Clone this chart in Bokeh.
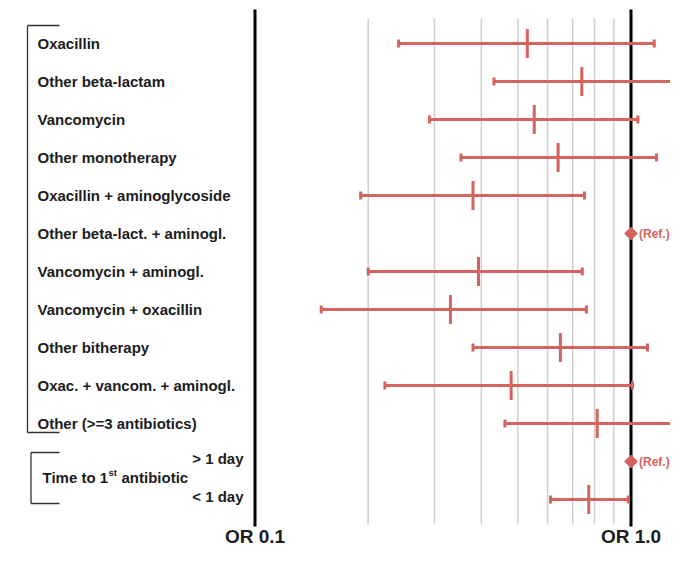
import math
from bokeh.plotting import figure
from bokeh.models import Range1d, ColumnDataSource
from bokeh.core.properties import value
from bokeh.embed import file_html
from bokeh.resources import INLINE

# ---------------- data ----------------
labels = ["Oxacillin", "Other beta-lactam", "Vancomycin", "Other monotherapy",
          "Oxacillin + aminoglycoside", "Other beta-lact. + aminogl.",
          "Vancomycin + aminogl.", "Vancomycin + oxacillin", "Other bitherapy",
          "Oxac. + vancom. + aminogl.", "Other (>=3 antibiotics)"]
time_labels = ["> 1 day", "< 1 day"]
# odds ratios (None = reference category)
or_est = [0.53, 0.74, 0.553, 0.64, 0.38, None, 0.393, 0.331, 0.649, 0.48, 0.813, None, 0.772]
or_low = [0.241, 0.432, 0.291, 0.353, 0.191, None, 0.200, 0.150, 0.380, 0.2215, 0.462, None, 0.611]
or_high = [1.153, 1.284, 1.043, 1.169, 0.752, None, 0.742, 0.761, 1.106, 1.009, 1.6, None, 0.983]
grid_ticks = [0.2, 0.3, 0.4, 0.5, 0.6, 0.7, 0.8, 0.9]
ref_ticks = [0.1, 1.0]
ref_tick_labels = ["OR 0.1", "OR 1.0"]

# ---------------- layout helpers ----------------
W, H = 670, 547
PX_DEC = 376.0
LOG_LO = -1 - 254.5 / PX_DEC
LOG_HI = LOG_LO + W / PX_DEC
ROW0, ROWH = 43.0, 38.0

def fx(px):
    return 10 ** (LOG_LO + px / PX_DEC)

def fy(py):
    return (py - ROW0) / ROWH

RED = "#d6635d"
TXT = "#1c1c1c"
FONT = value("Liberation Sans")

p = figure(width=W, height=H, output_backend="svg", toolbar_location=None,
           x_axis_type="log",
           x_range=Range1d(10 ** LOG_LO, 10 ** LOG_HI),
           y_range=Range1d(fy(H), fy(0)),
           min_border=0)
p.axis.visible = False
p.grid.visible = False
p.outline_line_color = None
p.background_fill_color = "white"

# grey gridlines
p.segment(x0=grid_ticks, x1=grid_ticks, y0=[fy(18)] * len(grid_ticks),
          y1=[fy(524)] * len(grid_ticks), line_color="#cfcfcf", line_width=1.5)
# black reference lines
p.segment(x0=ref_ticks, x1=ref_ticks, y0=[fy(9)] * 2, y1=[fy(526)] * 2,
          line_color="black", line_width=3)

rows = list(range(len(or_est)))
ci_rows = [r for r in rows if or_est[r] is not None]
ref_rows = [r for r in rows if or_est[r] is None]
src = ColumnDataSource(dict(
    y=ci_rows,
    est=[or_est[r] for r in ci_rows],
    lo=[or_low[r] for r in ci_rows],
    hi=[or_high[r] for r in ci_rows],
))
p.segment(x0="lo", x1="hi", y0="y", y1="y", source=src, line_color=RED, line_width=3)
p.scatter(x="lo", y="y", source=src, marker="dash", size=8, angle=math.pi / 2,
          line_color=RED, line_width=3)
p.scatter(x="hi", y="y", source=src, marker="dash", size=8, angle=math.pi / 2,
          line_color=RED, line_width=3)
p.scatter(x="est", y="y", source=src, marker="dash", size=29, angle=math.pi / 2,
          line_color=RED, line_width=3)

# reference categories
p.scatter(x=[1.0] * len(ref_rows), y=ref_rows, marker="square", size=9,
          angle=math.pi / 4, fill_color=RED, line_color=RED, line_width=1)
p.text(x=[fx(638.5)] * len(ref_rows), y=ref_rows, text=["(Ref.)"] * len(ref_rows),
       text_color=RED, text_font=FONT, text_font_style="bold",
       text_font_size="12px", text_baseline="middle", text_align="left")

# category labels
p.text(x=[fx(37)] * len(labels), y=list(range(len(labels))), text=labels,
       text_color=TXT, text_font=FONT, text_font_style="bold",
       text_font_size="15px", text_baseline="middle", text_align="left")
p.text(x=[fx(243)] * 2, y=[fy(457.7), fy(496)], text=time_labels,
       text_color=TXT, text_font=FONT, text_font_style="bold",
       text_font_size="15px", text_baseline="middle", text_align="right")
# "Time to 1st antibiotic"
p.text(x=[fx(42)], y=[fy(476.7)], text=["Time to 1"], text_color=TXT, text_font=FONT,
       text_font_style="bold", text_font_size="15px", text_baseline="middle")
p.text(x=[fx(108)], y=[fy(472)], text=["st"], text_color=TXT, text_font=FONT,
       text_font_style="bold", text_font_size="9.5px", text_baseline="middle")
p.text(x=[fx(121)], y=[fy(476.7)], text=["antibiotic"], text_color=TXT, text_font=FONT,
       text_font_style="bold", text_font_size="15px", text_baseline="middle")

# brackets
BR = "#333333"
p.segment(x0=[fx(27), fx(27), fx(27)], x1=[fx(27), fx(59), fx(59)],
          y0=[fy(25), fy(25), fy(432)], y1=[fy(432), fy(25), fy(432)],
          line_color=BR, line_width=1.3)
p.segment(x0=[fx(30.5), fx(30.5), fx(30.5)], x1=[fx(30.5), fx(59), fx(59)],
          y0=[fy(452), fy(452), fy(503)], y1=[fy(503), fy(452), fy(503)],
          line_color=BR, line_width=1.3)

# OR axis labels
p.text(x=ref_ticks, y=[fy(535.5)] * 2, text=ref_tick_labels, text_color=TXT,
       text_font=FONT, text_font_style="bold", text_font_size="19px",
       text_baseline="middle", text_align="center")

open("out.html", "w").write(file_html(p, INLINE))
